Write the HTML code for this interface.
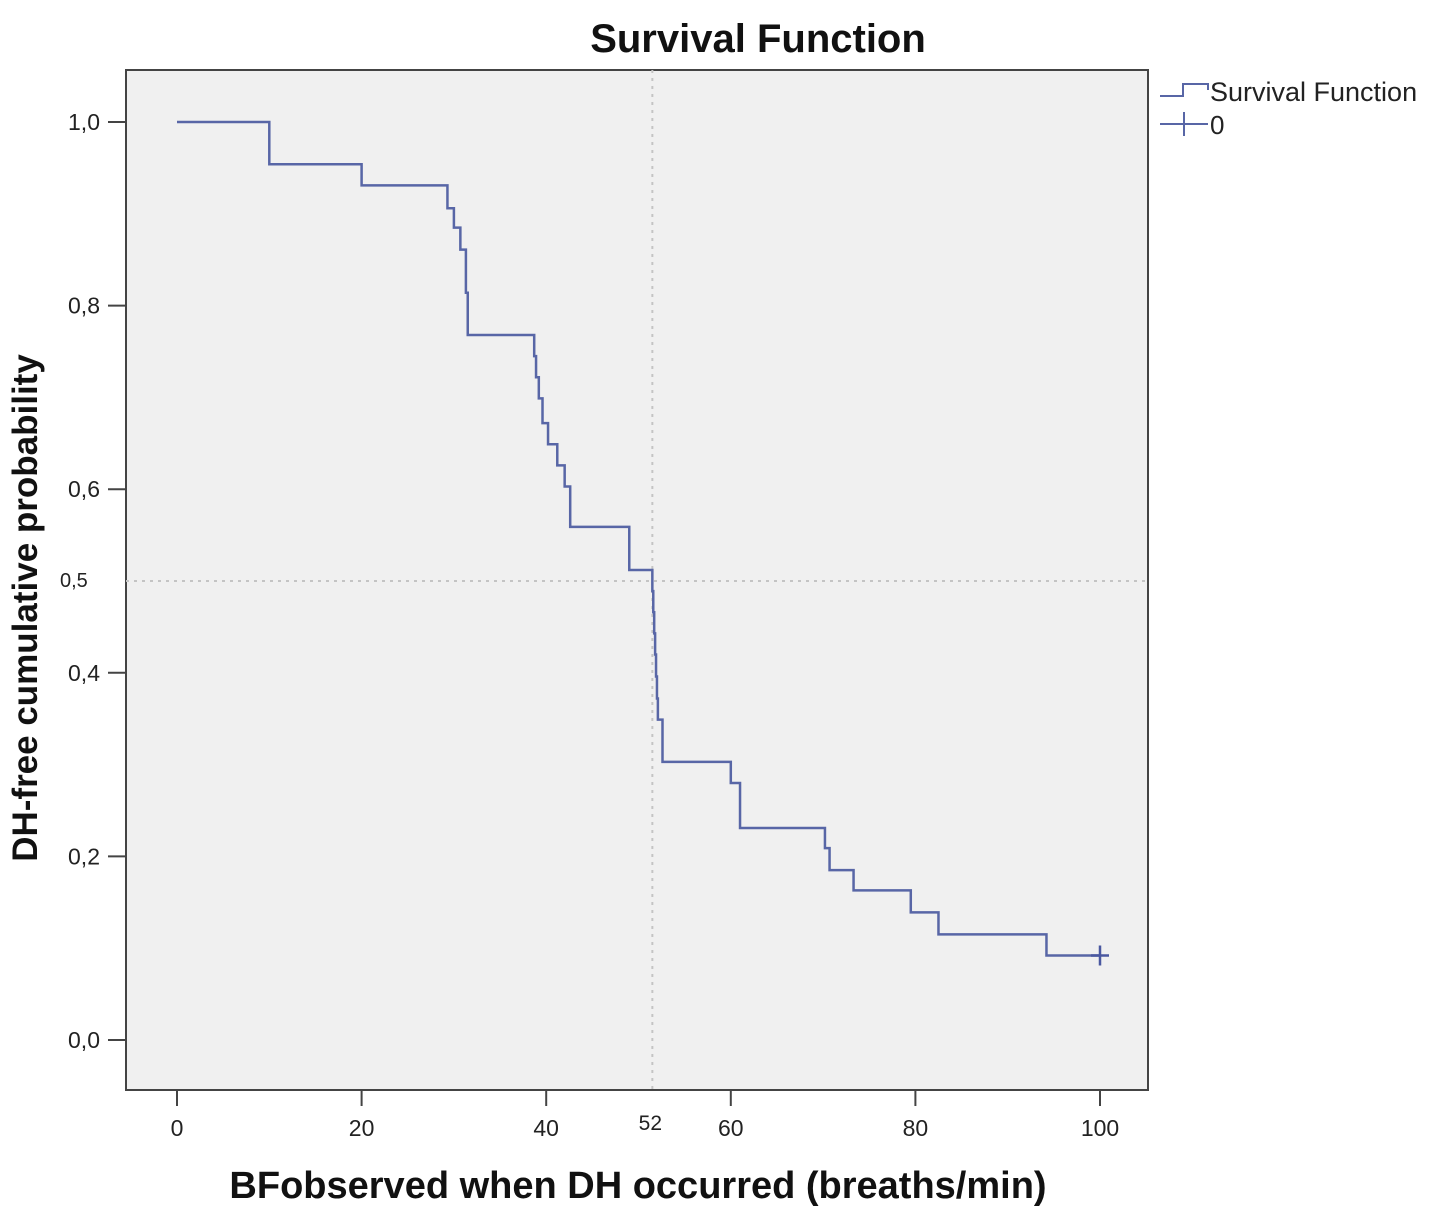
<!DOCTYPE html>
<html><head><meta charset="utf-8"><style>
html,body{margin:0;padding:0;background:#fff;}
svg{display:block;font-family:"Liberation Sans",Arial,sans-serif;}
</style></head><body>
<svg id="chart" width="1429" height="1220" viewBox="0 0 1429 1220" xmlns="http://www.w3.org/2000/svg">
<rect x="0" y="0" width="1429" height="1220" fill="#fff"/>
<text x="758" y="52" font-size="40" font-weight="bold" text-anchor="middle" fill="#111">Survival Function</text>
<rect x="126" y="70" width="1022" height="1020" fill="#f0f0f0" stroke="#444" stroke-width="2"/>
<g id="axes"></g>
<g id="series"></g>
<text x="638" y="1198" font-size="38" font-weight="bold" text-anchor="middle" fill="#111">BFobserved  when DH occurred (breaths/min)</text>
<text transform="translate(37,608) rotate(-90)" font-size="35" font-weight="bold" text-anchor="middle" fill="#111">DH-free cumulative probability</text>
<g>
<path d="M1160 96 H1183 V84 H1208 V90" fill="none" stroke="#5866a6" stroke-width="2"/>
<text x="1210" y="101" font-size="27" fill="#222">Survival Function</text>
<path d="M1160 124 H1208 M1184 112 V136" fill="none" stroke="#5866a6" stroke-width="2"/>
<text x="1210" y="134" font-size="26" fill="#222">0</text>
</g>
</svg>
<script>
const xTicks = [0, 20, 40, 60, 80, 100];
const yTicks = [0.0, 0.2, 0.4, 0.6, 0.8, 1.0];
const yTickLabels = ["0,0", "0,2", "0,4", "0,6", "0,8", "1,0"];
const medianX = 51.5;
const medianLabel = "52";
const eventTimes = [10, 20, 29.3, 30, 30.7, 31.3, 31.5, 38.7, 38.9, 39.2, 39.6, 40.2, 41.2, 42, 42.6, 49, 51.5, 51.6, 51.7, 51.8, 51.9, 52.0, 52.1, 52.6, 60, 61, 70.2, 70.7, 73.3, 79.5, 82.5, 94.2];
const survival = [0.954, 0.931, 0.906, 0.885, 0.861, 0.814, 0.768, 0.745, 0.722, 0.699, 0.672, 0.649, 0.626, 0.603, 0.559, 0.512, 0.489, 0.466, 0.443, 0.42, 0.396, 0.372, 0.349, 0.303, 0.28, 0.231, 0.209, 0.185, 0.163, 0.139, 0.115, 0.092];
const censorTimes = [100];
const censorValues = [0.092];

const NS = "http://www.w3.org/2000/svg";
const xs = v => 177 + v * 9.23;
const ys = v => 1040 - v * 918;
const axes = document.getElementById('axes');
const series = document.getElementById('series');
function mk(tag, attrs, parent) {
  const e = document.createElementNS(NS, tag);
  for (const k in attrs) e.setAttribute(k, attrs[k]);
  parent.appendChild(e);
  return e;
}
let r1 = mk('line', {x1: xs(medianX), x2: xs(medianX), y1: 70, y2: 1090, stroke: '#c4c4c4', 'stroke-width': 2, 'stroke-dasharray': '3,5'}, axes);


let r2 = mk('line', {x1: 126, x2: 1148, y1: ys(0.5), y2: ys(0.5), stroke: '#c4c4c4', 'stroke-width': 2, 'stroke-dasharray': '3,5'}, axes);


xTicks.forEach(t => {
  const l = mk('line', {x1: xs(t), x2: xs(t), y1: 1090, y2: 1106, stroke: '#444', 'stroke-width': 2}, axes);
  
  
  const tx = mk('text', {x: xs(t), y: 1136, 'font-size': 23, 'text-anchor': 'middle', fill: '#222'}, axes);
  tx.textContent = t;
  
  
});
yTicks.forEach((t, i) => {
  const l = mk('line', {x1: 108, x2: 126, y1: ys(t), y2: ys(t), stroke: '#444', 'stroke-width': 2}, axes);
  
  
  const tx = mk('text', {x: 100, y: ys(t) + 8, 'font-size': 23, 'text-anchor': 'end', fill: '#222'}, axes);
  tx.textContent = yTickLabels[i];
  
  
});
let ml = mk('text', {x: xs(medianX) - 2, y: 1130, 'font-size': 21, 'text-anchor': 'middle', fill: '#222'}, axes);
ml.textContent = medianLabel;


let hl = mk('text', {x: 60, y: ys(0.5) + 6, 'font-size': 20, fill: '#222'}, axes);
hl.textContent = "0,5";


let d = 'M' + xs(0) + ' ' + ys(1);
eventTimes.forEach((t, i) => {
  d += ' H' + xs(t) + ' V' + ys(survival[i]);
});
d += ' H' + xs(censorTimes[censorTimes.length - 1]);
const p = mk('path', {d: d, fill: 'none', stroke: '#5866a6', 'stroke-width': 2.5}, series);


censorTimes.forEach((t, i) => {
  const c = mk('path', {d: 'M' + (xs(t) - 9) + ' ' + ys(censorValues[i]) + ' H' + (xs(t) + 9) + ' M' + xs(t) + ' ' + (ys(censorValues[i]) - 10) + ' V' + (ys(censorValues[i]) + 10), stroke: '#4a58a0', 'stroke-width': 2.5, fill: 'none'}, series);
  
  
});
</script>
</body></html>
